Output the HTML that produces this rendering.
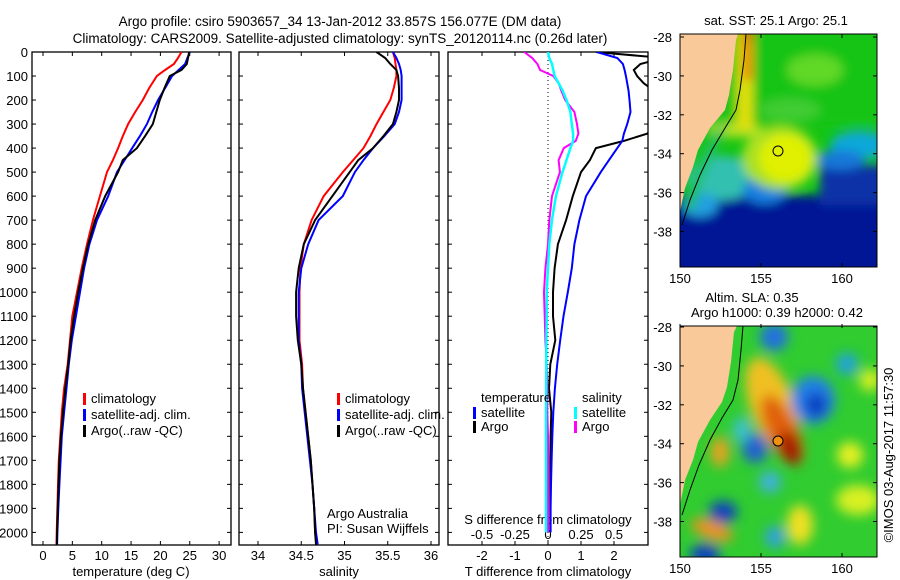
<!DOCTYPE html>
<html><head><meta charset="utf-8">
<style>
html,body{margin:0;padding:0;background:#fff;}
svg{display:block;font-family:"Liberation Sans",sans-serif;font-size:13px;}
</style></head>
<body>
<svg id="chart" width="900" height="580" viewBox="0 0 900 580" xmlns="http://www.w3.org/2000/svg">
<defs>
  <clipPath id="clipT"><rect x="32" y="52" width="199" height="493"/></clipPath>
  <clipPath id="clipS"><rect x="239" y="52" width="200" height="493"/></clipPath>
  <clipPath id="clipD"><rect x="448" y="52" width="200" height="493"/></clipPath>
  <clipPath id="clipM1"><rect x="680" y="34" width="197" height="233"/></clipPath>
  <clipPath id="clipM2"><rect x="680" y="326" width="197" height="231"/></clipPath>
  <filter id="blur1" filterUnits="userSpaceOnUse" x="600" y="0" width="320" height="320"><feGaussianBlur stdDeviation="5"/></filter>
  <filter id="blur2" filterUnits="userSpaceOnUse" x="600" y="280" width="320" height="320"><feGaussianBlur stdDeviation="6"/></filter>
</defs>

<text x="340" y="26" text-anchor="middle" font-size="13.5">Argo profile: csiro 5903657_34 13-Jan-2012 33.857S 156.077E (DM data)</text>
<text x="340" y="43" text-anchor="middle" font-size="13.5">Climatology: CARS2009. Satellite-adjusted climatology: synTS_20120114.nc (0.26d later)</text>

<g id="gT"></g>
<g id="gS"></g>
<g id="gD"></g>

<!-- SST map -->
<g>
  <text x="776" y="25" text-anchor="middle">sat. SST: 25.1 Argo: 25.1</text>
  <g clip-path="url(#clipM1)">
    <rect x="680" y="34" width="197" height="233" fill="#14c414"/>
    <g filter="url(#blur1)">
      <rect x="640" y="0" width="280" height="125" fill="#14c414"/>
      <ellipse cx="815" cy="70" rx="28" ry="16" fill="#60d828"/>
      <ellipse cx="790" cy="110" rx="30" ry="12" fill="#40cc30"/>
      <rect x="640" y="195" width="280" height="120" fill="#001494"/>
      <rect x="820" y="165" width="100" height="40" fill="#0a30a8"/>
      <ellipse cx="860" cy="145" rx="30" ry="14" fill="#10a8d8"/>
      <ellipse cx="840" cy="160" rx="25" ry="10" fill="#1878d8"/>
      <ellipse cx="722" cy="178" rx="36" ry="22" fill="#30c0b0"/>
      <ellipse cx="700" cy="205" rx="18" ry="12" fill="#20a0e0"/>
      <ellipse cx="765" cy="190" rx="22" ry="14" fill="#1880e0"/>
      <ellipse cx="780" cy="158" rx="38" ry="32" fill="#a8e020"/>
      <ellipse cx="785" cy="158" rx="26" ry="24" fill="#e0f000"/>
      <ellipse cx="735" cy="130" rx="28" ry="8" fill="#b0e020"/>
      <rect x="737" y="20" width="16" height="110" fill="#e0e010"/>
      <rect x="743" y="20" width="9" height="60" fill="#f08000"/>
      <rect x="745" y="20" width="6" height="22" fill="#c03000"/>
      <polygon fill="#20c060" points="728,120 712,135 698,160 690,185 684,210 694,210 702,180 716,150"/>
    </g>
    <polygon fill="#f9c99a" points="680,34 738,34 736,40 733,70 729,95 725,110 710,128 698,150 693,167 685,188 681,207 680,215"/>
    <polyline fill="none" stroke="#000" stroke-width="1" points="746,34 744,60 740,90 736,110 725,128 712,150 700,175 690,200 682,225"/>
    <circle cx="778" cy="151" r="5" fill="none" stroke="#000" stroke-width="1"/>
  </g>
  <rect x="680" y="34" width="197" height="233" fill="none" stroke="#000"/>
  <g id="m1ticks"></g>
</g>

<!-- SLA map -->
<g>
  <text x="752" y="302" text-anchor="middle">Altim. SLA: 0.35</text>
  <text x="777" y="317" text-anchor="middle">Argo h1000: 0.39 h2000: 0.42</text>
  <g clip-path="url(#clipM2)">
    <rect x="680" y="326" width="197" height="231" fill="#30cc30"/>
    <g filter="url(#blur2)">
      <ellipse cx="772" cy="405" rx="22" ry="50" transform="rotate(-20 772 405)" fill="#f0c020"/>
      <ellipse cx="782" cy="430" rx="15" ry="38" transform="rotate(-25 782 430)" fill="#e06010"/>
      <ellipse cx="790" cy="448" rx="9" ry="18" transform="rotate(-20 790 448)" fill="#a01000"/>
      <ellipse cx="774" cy="337" rx="14" ry="14" fill="#2070e0"/>
      <ellipse cx="813" cy="400" rx="22" ry="24" fill="#2080e8"/>
      <ellipse cx="816" cy="405" rx="11" ry="13" fill="#1040c0"/>
      <ellipse cx="847" cy="364" rx="11" ry="11" fill="#20a0e0"/>
      <ellipse cx="755" cy="448" rx="13" ry="15" fill="#2060d0"/>
      <ellipse cx="770" cy="482" rx="11" ry="11" fill="#40b0e0"/>
      <ellipse cx="723" cy="512" rx="14" ry="11" fill="#1040c0"/>
      <ellipse cx="705" cy="555" rx="15" ry="11" fill="#1040c0"/>
      <ellipse cx="775" cy="537" rx="10" ry="11" fill="#30a0e0"/>
      <ellipse cx="720" cy="452" rx="9" ry="15" fill="#f0a020"/>
      <ellipse cx="712" cy="530" rx="22" ry="9" transform="rotate(20 712 530)" fill="#f09020"/>
      <ellipse cx="800" cy="525" rx="13" ry="20" fill="#f0e020"/>
      <ellipse cx="850" cy="455" rx="13" ry="13" fill="#e8f020"/>
      <ellipse cx="858" cy="500" rx="22" ry="15" fill="#d8f020"/>
      <ellipse cx="870" cy="380" rx="11" ry="11" fill="#d8f020"/>
      <ellipse cx="742" cy="430" rx="9" ry="13" fill="#40c0d0"/>
    </g>
    <polygon fill="#f9c99a" points="680,326 737,326 734,332 731,362 727,387 722,402 710,420 698,442 693,460 685,480 681,500 680,508"/>
    <polyline fill="none" stroke="#000" stroke-width="1" points="743,326 741,350 738,380 733,400 722,418 710,440 699,465 690,490 682,515"/>
    <circle cx="778" cy="441" r="5" fill="#f09010" stroke="#000" stroke-width="1"/>
  </g>
  <rect x="680" y="326" width="197" height="231" fill="none" stroke="#000"/>
  <g id="m2ticks"></g>
</g>

<text transform="translate(893,455) rotate(-90)" text-anchor="middle">©IMOS 03-Aug-2017 11:57:30</text>

<script>
// ---- data ----
const depths = [0,25,50,75,100,150,200,250,300,350,400,450,500,600,700,800,900,1000,1100,1200,1300,1400,1500,1600,1700,1800,1900,2000,2050];
const tempClim = [23.6,23.0,22.3,20.8,19.4,18.1,17.0,15.7,14.5,13.6,12.8,11.9,10.9,9.7,8.5,7.5,6.6,5.8,5.0,4.6,4.2,3.6,3.2,2.95,2.7,2.55,2.45,2.33,2.3];
const tempSat  = [25.0,24.6,24.2,23.1,22.0,20.8,19.6,18.6,17.7,16.5,15.2,13.9,12.6,11.1,9.2,7.9,7.0,6.3,5.6,4.9,4.4,4.0,3.6,3.2,3.0,2.8,2.6,2.45,2.4];
const tempArgo = [24.9,24.7,24.5,23.6,21.6,20.7,19.9,19.3,18.7,17.4,16.0,13.6,12.8,10.6,8.9,7.7,6.8,6.0,5.3,4.7,4.3,3.8,3.4,3.05,2.8,2.65,2.5,2.4,2.35];
const salClim  = [35.56,35.58,35.59,35.6,35.6,35.57,35.53,35.45,35.37,35.3,35.22,35.1,34.98,34.76,34.62,34.53,34.49,34.48,34.48,34.48,34.51,34.52,34.55,34.58,34.61,34.63,34.65,34.66,34.68];
const salSat   = [35.56,35.6,35.63,35.65,35.66,35.66,35.66,35.63,35.58,35.46,35.33,35.22,35.12,34.98,34.7,34.58,34.5,34.47,34.47,34.47,34.5,34.51,34.54,34.57,34.6,34.63,34.65,34.67,34.69];
const salArgo  = [35.37,35.47,35.53,35.6,35.62,35.63,35.63,35.6,35.56,35.45,35.33,35.16,35.06,34.86,34.66,34.53,34.47,34.44,34.44,34.46,34.5,34.52,34.55,34.58,34.61,34.63,34.65,34.66,34.67];

const diffDepths = [0,25,50,75,100,130,160,200,250,300,340,370,400,450,500,600,700,800,900,1000,1100,1200,1300,1400,1500,1600,1700,1800,1900,2000];
const tDiffSat  = [1.48,2.1,2.27,2.32,2.36,2.4,2.44,2.47,2.5,2.4,2.3,2.25,2.1,1.85,1.6,1.15,0.95,0.8,0.72,0.6,0.47,0.37,0.28,0.21,0.16,0.13,0.11,0.09,0.08,0.08];
const tDiffArgo = [1.45,3.5,2.8,2.6,2.7,2.9,3.2,3.6,3.6,3.4,3.0,2.3,1.45,1.27,1.0,0.75,0.55,0.3,0.2,0.15,0.15,0.22,0.07,0.03,0.1,0.08,0.07,0.07,0.07,0.07];
const sDiffSat  = [0.0,0.01,0.03,0.04,0.05,0.08,0.11,0.14,0.17,0.18,0.19,0.19,0.17,0.14,0.11,0.06,0.03,0.01,0.0,-0.01,-0.01,-0.012,-0.013,-0.014,-0.015,-0.015,-0.015,-0.015,-0.015,-0.015];
const sDiffArgo = [-0.18,-0.12,-0.08,-0.06,0.04,0.08,0.1,0.13,0.2,0.22,0.23,0.21,0.12,0.08,0.09,0.03,0.01,0.0,-0.02,-0.03,-0.025,-0.02,-0.01,-0.005,-0.005,0,0,0,0,0];

const depthTicks = [0,100,200,300,400,500,600,700,800,900,1000,1100,1200,1300,1400,1500,1600,1700,1800,1900,2000];
const tempTicks = [0,5,10,15,20,25,30];
const salTicks = [34,34.5,35,35.5,36];
const salTickLabels = ["34","34.5","35","35.5","36"];
const tDiffTicks = [-2,-1,0,1,2];
const sDiffTicks = [-0.5,-0.25,0,0.25,0.5];
const sDiffTickLabels = ["-0.5","-0.25","0","0.25","0.5"];
const latTicks = [-28,-30,-32,-34,-36,-38];
const lonTicks = [150,155,160];

// ---- scales ----
const NS = "http://www.w3.org/2000/svg";
const yD = d => 52 + d * 0.2402;
const xT = t => 43 + t * 5.87;
const xS = s => 258 + (s - 34) * 86.5;
const xTD = v => 548 + v * 33;
const xSD = v => 548 + v * 132;

function mk(tag, attrs, parent) {
  const e = document.createElementNS(NS, tag);
  for (const k in attrs) e.setAttribute(k, attrs[k]);
  parent.appendChild(e);
  return e;
}
function linePath(xs, ds, xf) {
  return xs.map((v, i) => (i ? "L" : "M") + xf(v).toFixed(1) + "," + yD(ds[i]).toFixed(1)).join(" ");
}
function frame(g, x0, x1, name) {
  const r = mk("rect", {x: x0, y: 52, width: x1 - x0, height: 493, fill: "none", stroke: "#000", "stroke-width": 1.3}, g);
  
  
}
function yTicks(g, x0, x1, labels) {
  depthTicks.forEach(d => {
    mk("line", {x1: x0, x2: x0 + 4, y1: yD(d), y2: yD(d), stroke: "#000"}, g);
    mk("line", {x1: x1, x2: x1 - 4, y1: yD(d), y2: yD(d), stroke: "#000"}, g);
    if (labels) {
      const t = mk("text", {x: 28, y: yD(d) + 5, "text-anchor": "end"}, g);
      t.textContent = d;
      
      
    }
  });
}
function xTicks(g, ticks, labels, xf, ylab, top) {
  ticks.forEach((v, i) => {
    mk("line", {x1: xf(v), x2: xf(v), y1: 545, y2: 541, stroke: "#000"}, g);
    if (top) mk("line", {x1: xf(v), x2: xf(v), y1: 52, y2: 56, stroke: "#000"}, g);
    const t = mk("text", {x: xf(v), y: ylab, "text-anchor": "middle"}, g);
    t.textContent = labels[i];
    
    
  });
}
function series(g, clip, xs, ds, xf, color, w, name) {
  const p = mk("path", {d: linePath(xs, ds, xf), fill: "none", stroke: color, "stroke-width": w, "clip-path": clip}, g);
  
  
}
function legend(g, x, y, color, label, name) {
  mk("rect", {x: x, y: y - 10, width: 3, height: 12, fill: color}, g);
  const t = mk("text", {x: x + 8, y: y}, g);
  t.textContent = label;
  
  
}
function txt(g, x, y, s, name, anchor) {
  const t = mk("text", {x: x, y: y, "text-anchor": anchor || "start"}, g);
  t.textContent = s;
  
  
}

// ---- temperature panel ----
const gT = document.getElementById("gT");
frame(gT, 32, 231, "temperature-plot-frame");
yTicks(gT, 32, 231, true);
xTicks(gT, tempTicks, tempTicks, xT, 560, true);
txt(gT, 131, 576, "temperature (deg C)", "temperature-axis-title", "middle");
series(gT, "url(#clipT)", tempClim, depths, xT, "#ff0000", 2, "temp-climatology-line");
series(gT, "url(#clipT)", tempSat, depths, xT, "#0000ff", 2, "temp-satellite-line");
series(gT, "url(#clipT)", tempArgo, depths, xT, "#000000", 2, "temp-argo-line");
legend(gT, 83, 403, "#ff0000", "climatology", "legend-climatology");
legend(gT, 83, 419, "#0000ff", "satellite-adj. clim.", "legend-satellite-adj");
legend(gT, 83, 435, "#000000", "Argo(..raw -QC)", "legend-argo");

// ---- salinity panel ----
const gS = document.getElementById("gS");
frame(gS, 239, 439, "salinity-plot-frame");
yTicks(gS, 239, 439, false);
xTicks(gS, salTicks, salTickLabels, xS, 560, true);
txt(gS, 339, 576, "salinity", "salinity-axis-title", "middle");
series(gS, "url(#clipS)", salClim, depths, xS, "#ff0000", 2, "sal-climatology-line");
series(gS, "url(#clipS)", salSat, depths, xS, "#0000ff", 2, "sal-satellite-line");
series(gS, "url(#clipS)", salArgo, depths, xS, "#000000", 2, "sal-argo-line");
legend(gS, 337, 403, "#ff0000", "climatology", "legend-climatology-2");
legend(gS, 337, 419, "#0000ff", "satellite-adj. clim.", "legend-satellite-adj-2");
legend(gS, 337, 435, "#000000", "Argo(..raw -QC)", "legend-argo-2");
txt(gS, 327, 518, "Argo Australia", "agency-label");
txt(gS, 327, 533, "PI: Susan Wijffels", "pi-label");

// ---- difference panel ----
const gD = document.getElementById("gD");
frame(gD, 448, 648, "difference-plot-frame");
depthTicks.forEach(d => {
  mk("line", {x1: 448, x2: 452, y1: yD(d), y2: yD(d), stroke: "#000"}, gD);
  mk("line", {x1: 648, x2: 644, y1: yD(d), y2: yD(d), stroke: "#000"}, gD);
});
mk("line", {x1: 548, x2: 548, y1: 52, y2: 545, stroke: "#000", "stroke-dasharray": "1,3"}, gD);
xTicks(gD, tDiffTicks, tDiffTicks, xTD, 560, true);
sDiffTicks.forEach((v, i) => {
  const t = mk("text", {x: xSD(v), y: 539, "text-anchor": "middle"}, gD);
  t.textContent = sDiffTickLabels[i];
  
  
});
txt(gD, 548, 524, "S difference from climatology", "s-diff-axis-title", "middle");
txt(gD, 548, 576, "T difference from climatology", "t-diff-axis-title", "middle");
series(gD, "url(#clipD)", tDiffArgo, diffDepths, xTD, "#000000", 2, "t-diff-argo-line");
series(gD, "url(#clipD)", tDiffSat, diffDepths, xTD, "#0000ff", 2, "t-diff-satellite-line");
series(gD, "url(#clipD)", sDiffArgo, diffDepths, xSD, "#ff00ff", 2, "s-diff-argo-line");
series(gD, "url(#clipD)", sDiffSat, diffDepths, xSD, "#00ffff", 2.5, "s-diff-satellite-line");
txt(gD, 481, 402, "temperature", "legend-temperature-heading");
legend(gD, 473, 417, "#0000ff", "satellite", "legend-t-satellite");
legend(gD, 473, 431, "#000000", "Argo", "legend-t-argo");
txt(gD, 582, 402, "salinity", "legend-salinity-heading");
legend(gD, 574, 417, "#00ffff", "satellite", "legend-s-satellite");
legend(gD, 574, 431, "#ff00ff", "Argo", "legend-s-argo");

// ---- map axes ----
function mapAxes(id, top, bottom) {
  const g = document.getElementById(id);
  const yL = la => top + (-28 - la) * 19.45;
  const xL = lo => 680 + (lo - 150) * 16.2;
  latTicks.forEach(la => {
    mk("line", {x1: 680, x2: 684, y1: yL(la), y2: yL(la), stroke: "#000"}, g);
    mk("line", {x1: 877, x2: 873, y1: yL(la), y2: yL(la), stroke: "#000"}, g);
    const t = mk("text", {x: 672, y: yL(la) + 5, "text-anchor": "end"}, g);
    t.textContent = la;
    
    
  });
  lonTicks.forEach(lo => {
    mk("line", {x1: xL(lo), x2: xL(lo), y1: bottom, y2: bottom - 4, stroke: "#000"}, g);
    mk("line", {x1: xL(lo), x2: xL(lo), y1: top - 3, y2: top + 1, stroke: "#000"}, g);
    const t = mk("text", {x: xL(lo), y: bottom + 16, "text-anchor": "middle"}, g);
    t.textContent = lo;
    
    
  });
}
mapAxes("m1ticks", 37, 267);
mapAxes("m2ticks", 327, 557);
</script>
</svg>
</body></html>
